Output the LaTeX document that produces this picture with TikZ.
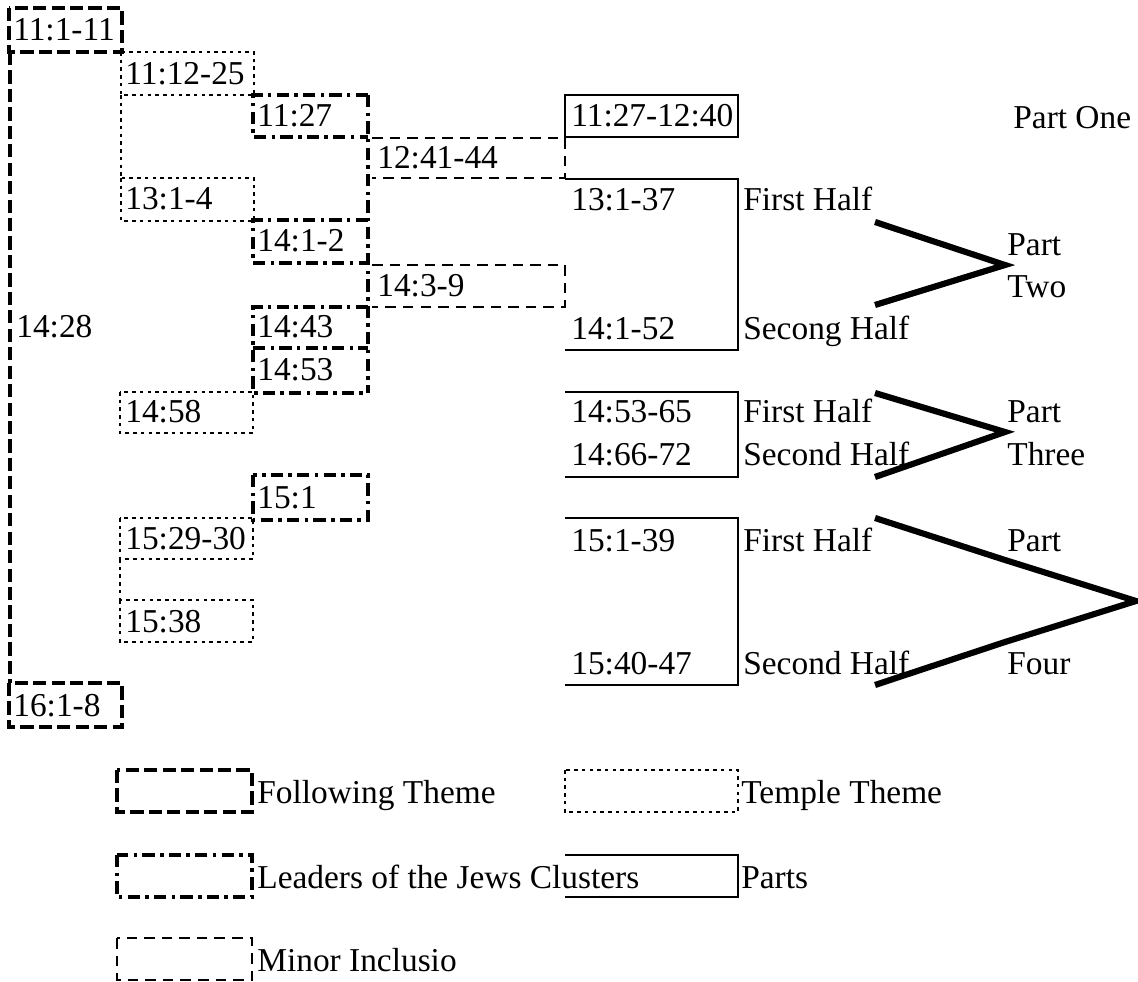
\documentclass[tikz,border=0pt]{standalone}
\usepackage{fontspec}
\setmainfont{Liberation Serif}
\begin{document}
\begin{tikzpicture}[x=0.02cm,y=-0.02cm]
\tikzset{
  fol/.style={line width=2.2pt, dash pattern=on 7.5pt off 3pt},
  tem/.style={line width=1.4pt, dash pattern=on 2pt off 2.4pt},
  lead/.style={line width=2.5pt, dash pattern=on 7pt off 3pt on 2pt off 3pt},
  minor/.style={line width=1.4pt, dash pattern=on 6pt off 4pt},
  partline/.style={line width=1.5pt},
  chev/.style={line width=3.5pt},
  lbl/.style={anchor=base west, inner sep=0pt, font=\fontsize{19}{21}\selectfont}
}
\useasboundingbox (0,0) rectangle (1138,982);
% Following theme
\draw[fol] (9,8) rectangle (122,52);
\draw[fol] (10,52) -- (10,683);
\draw[fol] (9,683) rectangle (122,727);
% Temple theme
\draw[tem] (121,52) rectangle (254,95);
\draw[tem] (121,95) -- (121,178);
\draw[tem] (121,178) rectangle (254,221);
\draw[tem] (120,392) rectangle (253,433);
\draw[tem] (120,518) rectangle (253,559);
\draw[tem] (120,559) -- (120,600);
\draw[tem] (120,600) rectangle (253,642);
% Leaders of the Jews
\draw[lead] (368,95) -- (253,95) -- (253,137) -- (368,137);
\draw[lead] (368,220) -- (253,220) -- (253,263) -- (368,263);
\draw[lead] (368,95) -- (368,393);
\draw[lead] (368,307) -- (253,307) -- (253,393) -- (368,393);
\draw[lead] (253,348) -- (368,348);
\draw[lead] (253,475) rectangle (368,520);
% Minor inclusio
\draw[minor] (372,138) -- (565,138) -- (565,178) -- (372,178);
\draw[minor] (372,265) -- (565,265) -- (565,307) -- (372,307);
% Parts
\draw[partline] (565,95) rectangle (738,137);
\draw[partline] (565,179) -- (738,179) -- (738,350) -- (565,350);
\draw[partline] (565,392) -- (738,392) -- (738,477) -- (565,477);
\draw[partline] (565,518) -- (738,518) -- (738,685) -- (565,685);
% Chevrons
\draw[chev] (875,222) -- (1005,265) -- (875,305);
\draw[chev] (875,393) -- (1005,432) -- (875,477);
\draw[chev] (875,518) -- (1005,560) -- (1136,601) -- (1005,642) -- (875,685);
% Labels
\node[lbl] (t1) at (13,41) {11:1-11};
\node[lbl] (t2) at (125,85) {11:12-25};
\node[lbl] (t3) at (257,127) {11:27};
\node[lbl] (t4) at (377,169) {12:41-44};
\node[lbl] (t5) at (125,210) {13:1-4};
\node[lbl] (t6) at (257,252) {14:1-2};
\node[lbl] (t7) at (377,297) {14:3-9};
\node[lbl] (t8) at (16,338) {14:28};
\node[lbl] (t9) at (257,338) {14:43};
\node[lbl] (t10) at (257,381) {14:53};
\node[lbl] (t11) at (125,423) {14:58};
\node[lbl] (t12) at (257,508) {15:1};
\node[lbl] (t13) at (125,549) {15:29-30};
\node[lbl] (t14) at (125,632) {15:38};
\node[lbl] (t15) at (13,716) {16:1-8};
\node[lbl] (p1) at (571,127) {11:27-12:40};
\node[lbl] (po) at (1013,129) {Part One};
\node[lbl] (p2a) at (571,211) {13:1-37};
\node[lbl] (h2a) at (743,211) {First Half};
\node[lbl] (p2b) at (571,340) {14:1-52};
\node[lbl] (h2b) at (743,340) {Secong Half};
\node[lbl] (q2a) at (1007,256) {Part};
\node[lbl] (q2b) at (1007,298) {Two};
\node[lbl] (p3a) at (571,423) {14:53-65};
\node[lbl] (h3a) at (743,423) {First Half};
\node[lbl] (q3a) at (1007,423) {Part};
\node[lbl] (p3b) at (571,466) {14:66-72};
\node[lbl] (h3b) at (743,466) {Second Half};
\node[lbl] (q3b) at (1007,466) {Three};
\node[lbl] (p4a) at (571,551) {15:1-39};
\node[lbl] (h4a) at (743,551) {First Half};
\node[lbl] (q4a) at (1007,551) {Part};
\node[lbl] (p4b) at (571,674) {15:40-47};
\node[lbl] (h4b) at (743,674) {Second Half};
\node[lbl] (q4b) at (1007,674) {Four};
% Legend
\draw[fol] (117,770) rectangle (252,812);
\node[lbl] (l1) at (257,803) {Following Theme};
\draw[tem] (565,770) rectangle (738,812);
\node[lbl] (l2) at (741,803) {Temple Theme};
\draw[lead] (117,855) rectangle (252,897);
\node[lbl] (l3) at (257,888) {Leaders of the Jews Clusters};
\draw[partline] (565,855) -- (738,855) -- (738,897) -- (565,897);
\node[lbl] (l4) at (741,888) {Parts};
\draw[minor] (117,938) rectangle (252,980);
\node[lbl] (l5) at (257,971) {Minor Inclusio};
\end{tikzpicture}
\end{document}
